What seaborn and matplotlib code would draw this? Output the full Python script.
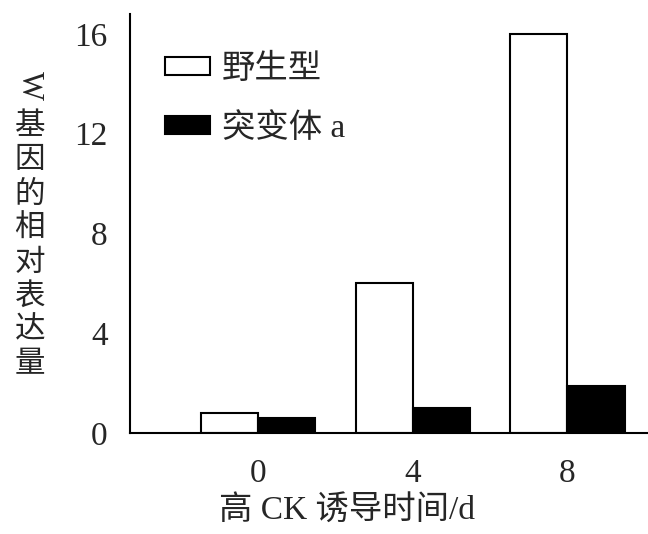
import pandas as pd
import numpy as np
import matplotlib
matplotlib.use('Agg')
import matplotlib.pyplot as plt
import seaborn as sns
from matplotlib.patches import Patch

# data
days = ['0', '4', '8']
wild_type = [0.8, 6.0, 16.0]
mutant_a = [0.6, 1.0, 1.9]
groups = ['野生型', '突变体 a']
yticks = [0, 4, 8, 12, 16]

sns.set_style('white')
plt.rcParams['font.family'] = ['Liberation Serif', 'Noto Sans CJK SC']

df = pd.DataFrame({
    'day': days * 2,
    'value': wild_type + mutant_a,
    'group': [groups[0]] * 3 + [groups[1]] * 3,
})

fig = plt.figure(figsize=(6.48, 5.34), dpi=100)
ax = fig.add_axes([0.2006, 0.189, 0.799, 0.785])
sns.barplot(data=df, x='day', y='value', hue='group', hue_order=groups,
            palette=['white', 'black'], edgecolor='black', linewidth=1.5,
            width=0.74, gap=0, ax=ax, legend=False)

ax.set_xlim(-0.83, 2.52)
ax.set_ylim(0, 16.8)
ax.set_yticks(yticks)
ax.set_yticklabels([str(t) for t in yticks], fontsize=24)
ax.set_xticklabels(days, fontsize=24)
ax.tick_params(axis='both', direction='out', length=10, width=1.5, color='black')
ax.tick_params(axis='y', pad=6)
ax.tick_params(axis='x', pad=8)
for s in ['top', 'right']:
    ax.spines[s].set_visible(False)
for s in ['left', 'bottom']:
    ax.spines[s].set_color('black')
    ax.spines[s].set_linewidth(1.5)
ax.set_xlabel('')
ax.set_ylabel('')

# x label
fig.text(0.535, 0.045, '高 CK 诱导时间/d', ha='center', va='center', fontsize=24)

# vertical y label
fig.text(0.046, 1 - 85 / 534, 'W', ha='center', va='center', fontsize=22, rotation=-90)
for i, ch in enumerate('基因的相对表达量'):
    fig.text(0.046, 1 - (127 + i * 34) / 534, ch, ha='center', va='center', fontsize=22)

# legend
handles = [Patch(facecolor='white', edgecolor='black', linewidth=1.5),
           Patch(facecolor='black', edgecolor='black', linewidth=1.5)]
ax.legend(handles, groups, loc='upper left', bbox_to_anchor=(0.068, 0.905),
          frameon=False, fontsize=24, handlelength=1.35, handleheight=0.45,
          labelspacing=0.85, handletextpad=0.35, borderpad=0, borderaxespad=0)

plt.savefig('out.png', dpi=100)
